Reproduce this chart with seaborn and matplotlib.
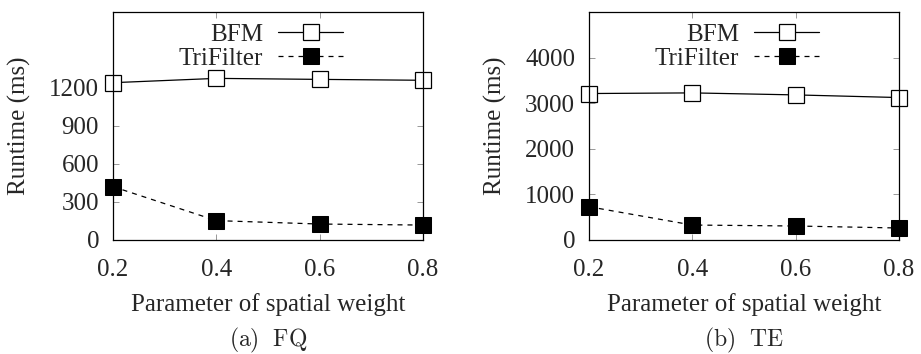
import matplotlib
matplotlib.use("Agg")
import matplotlib.pyplot as plt
import seaborn as sns
import pandas as pd

x_vals = [0.2, 0.4, 0.6, 0.8]
fq_bfm = [1242, 1276, 1268, 1261]
fq_tri = [421, 153, 126, 118]
te_bfm = [3212, 3226, 3182, 3124]
te_tri = [730, 328, 307, 263]
fq_yticks = [0, 300, 600, 900, 1200]
te_yticks = [0, 1000, 2000, 3000, 4000]
x_ticks = ["0.2", "0.4", "0.6", "0.8"]
captions = ["(a)\\ \\ FQ", "(b)\\ \\ TE"]
xlabel = "Parameter of spatial weight"
ylabel = "Runtime (ms)"

sns.set_style("ticks")
plt.rcParams['font.family'] = ['Liberation Serif', 'DejaVu Serif']
plt.rcParams['mathtext.fontset'] = 'cm'

fig = plt.figure(figsize=(9.21, 3.54), dpi=100)
ax1 = fig.add_axes([113/921, 1-240/354, (423-113)/921, 228/354])
ax2 = fig.add_axes([589/921, 1-240/354, (899-589)/921, 228/354])

fs = 18
panels = [(ax1, fq_bfm, fq_tri, fq_yticks, 1800),
          (ax2, te_bfm, te_tri, te_yticks, 5000)]
for ax, bfm, tri, yt, ymax in panels:
    df = pd.DataFrame({"x": x_vals, "BFM": bfm, "TriFilter": tri})
    sns.lineplot(data=df, x="x", y="BFM", ax=ax, color="black", lw=0.9,
                 marker="s", markersize=11, markerfacecolor="white",
                 markeredgecolor="black", markeredgewidth=0.9, label="BFM")
    sns.lineplot(data=df, x="x", y="TriFilter", ax=ax, color="black", lw=0.9,
                 marker="s", markersize=11, markerfacecolor="black",
                 markeredgecolor="black", label="TriFilter")
    ax.lines[1].set_dashes((4, 4))
    for ln in ax.lines:
        ln.set_clip_on(False)
    ax.set_xlim(0.2, 0.8)
    ax.set_ylim(0, ymax)
    ax.set_xticks(x_vals)
    ax.set_xticklabels(x_ticks)
    ax.set_yticks(yt)
    ax.tick_params(direction="in", length=4, width=0.6, color="#888888",
                   top=True, right=True, labelsize=fs)
    ax.tick_params(axis="x", pad=14)
    ax.tick_params(axis="y", pad=10)
    for s in ax.spines.values():
        s.set_linewidth(0.9)
        s.set_color("black")
    ax.set_xlabel(xlabel, fontsize=fs, labelpad=8)
    ax.set_ylabel(ylabel, fontsize=fs, labelpad=13)
    leg = ax.legend(loc="upper center", frameon=False, markerfirst=False,
                    fontsize=fs, handlelength=2.6, handletextpad=0.6,
                    borderaxespad=0.0, labelspacing=0.06, borderpad=0.45,
                    bbox_to_anchor=(0.477, 1.0))
    for t in leg.get_texts():
        t.set_ha("right")

fig.text((113+423)/2/921, 1-340/354, "$\\mathrm{" + captions[0] + "}$",
         ha="center", va="center", fontsize=17)
fig.text((589+899)/2/921, 1-340/354, "$\\mathrm{" + captions[1] + "}$",
         ha="center", va="center", fontsize=17)

fig.savefig("out.png", dpi=100)
